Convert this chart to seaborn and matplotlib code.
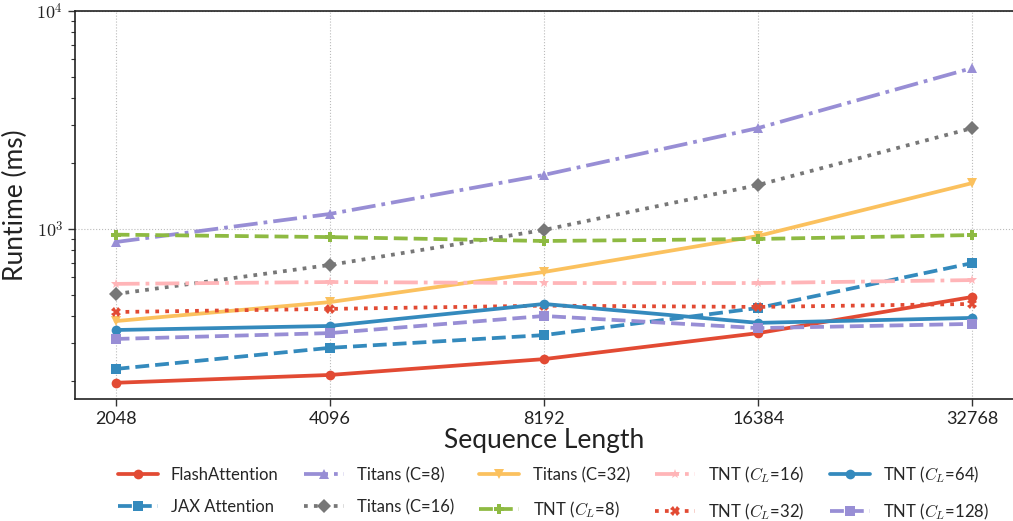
import math
import matplotlib
matplotlib.use("Agg")
import matplotlib.pyplot as plt
import matplotlib.ticker as mticker
import seaborn as sns
import pandas as pd

seq_len = [2048, 4096, 8192, 16384, 32768]

flash_attention = [197, 214, 253, 333, 488]
jax_attention = [228, 285, 326, 434, 698]
titans_c8 = [871, 1172, 1770, 2905, 5479]
titans_c16 = [503, 684, 990, 1592, 2905]
titans_c32 = [378, 462, 635, 929, 1625]
tnt_cl8 = [942, 918, 881, 900, 938]
tnt_cl16 = [560, 571, 565, 565, 583]
tnt_cl32 = [416, 430, 445, 439, 453]
tnt_cl64 = [344, 359, 453, 371, 391]
tnt_cl128 = [313, 333, 399, 351, 367]

labels = ["FlashAttention", "JAX Attention", "Titans (C=8)", "Titans (C=16)",
          "Titans (C=32)", r"TNT ($C_L$=8)", r"TNT ($C_L$=16)", r"TNT ($C_L$=32)",
          r"TNT ($C_L$=64)", r"TNT ($C_L$=128)"]
series = [flash_attention, jax_attention, titans_c8, titans_c16, titans_c32,
          tnt_cl8, tnt_cl16, tnt_cl32, tnt_cl64, tnt_cl128]

colors = ["#E24A33", "#348ABD", "#988ED5", "#777777", "#FBC15E",
          "#8EBA42", "#FFB5B8", "#E24A33", "#348ABD", "#988ED5"]
markers = ["o", "s", "^", "D", "v", "P", "*", "X", "o", "s"]
styles = ["-", "--", "-.", ":", "-", "--", "-.", ":", "-", "--"]


def main():
    sns.set_style("white")
    plt.rcParams["font.family"] = ["Lato", "DejaVu Sans"]
    plt.rcParams["mathtext.fontset"] = "cm"

    fig = plt.figure(figsize=(10.13, 5.21), dpi=100)
    ax = fig.add_axes([75 / 1013, (521 - 399) / 521, (1013 - 75) / 1013, (399 - 11) / 521])

    for name, vals, c, m, ls in zip(labels, series, colors, markers, styles):
        df = pd.DataFrame({"Sequence Length": seq_len, "Runtime": vals})
        sns.lineplot(data=df, x="Sequence Length", y="Runtime", ax=ax, color=c,
                     marker=m, linestyle=ls, linewidth=2.7, markersize=7,
                     markeredgewidth=0, label=name)

    ax.set_xscale("log", base=2)
    ax.set_yscale("log")
    ax.set_xlim(1796, 37360)
    ax.set_ylim(166, 10000)
    ax.set_xticks(seq_len)
    ax.xaxis.set_major_formatter(mticker.FuncFormatter(lambda v, p: f"{int(round(v))}"))
    ax.xaxis.set_minor_locator(mticker.NullLocator())
    ax.yaxis.set_major_locator(mticker.FixedLocator([1e3, 1e4]))
    ax.yaxis.set_major_formatter(mticker.FuncFormatter(
        lambda v, p: r"$10^{%d}$" % round(math.log10(v))))
    ax.yaxis.set_minor_locator(mticker.LogLocator(base=10, subs=range(2, 10)))
    ax.yaxis.set_minor_formatter(mticker.NullFormatter())

    ax.tick_params(axis="both", which="major", direction="out", length=5,
                   width=1, colors="#333333", labelsize=13, bottom=True, left=True)
    ax.tick_params(axis="y", which="minor", direction="out", length=3,
                   width=0.8, colors="#333333", left=True)
    for lab in ax.get_xticklabels() + ax.get_yticklabels():
        lab.set_color("#222222")

    ax.grid(True, which="major", linestyle=":", color="#bbbbbb", linewidth=0.8)
    for side in ["left", "bottom", "top"]:
        ax.spines[side].set_color("#222222")
        ax.spines[side].set_linewidth(1.2)
    ax.spines["right"].set_visible(False)

    ax.set_xlabel("Sequence Length", fontsize=19, labelpad=1, color="#222222")
    ax.set_ylabel("Runtime (ms)", fontsize=19, labelpad=6, color="#222222")

    ax.legend(loc="upper center", bbox_to_anchor=(0.51, -0.13), ncol=5,
              frameon=False, fontsize=12, handlelength=2.4, columnspacing=1.5,
              labelspacing=0.95, handletextpad=0.8)

    plt.savefig("out.png", dpi=100)


if __name__ == "__main__":
    main()
